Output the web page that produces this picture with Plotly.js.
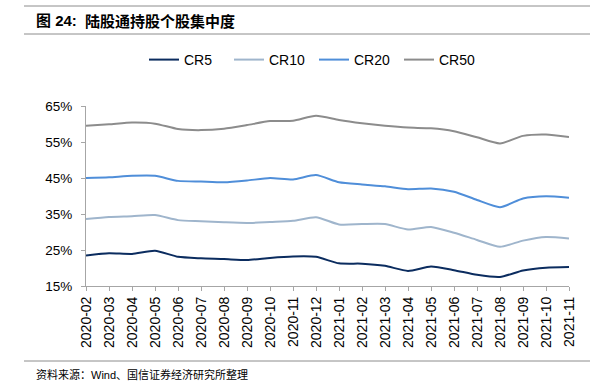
<!DOCTYPE html>
<html>
<head>
<meta charset="utf-8">
<script src="https://cdn.plot.ly/plotly-3.0.1.min.js"></script>
<style>html,body{margin:0;padding:0;background:#fff;}#chart{width:596px;height:391px;}</style>
</head>
<body>
<div id="chart"></div>
<script>
const months = ["2020-02","2020-03","2020-04","2020-05","2020-06","2020-07","2020-08","2020-09","2020-10","2020-11","2020-12","2021-01","2021-02","2021-03","2021-04","2021-05","2021-06","2021-07","2021-08","2021-09","2021-10","2021-11"];
const cr5  = [23.5,24.1,23.9,24.8,23.1,22.7,22.5,22.2,22.8,23.2,23.1,21.3,21.2,20.6,19.2,20.4,19.4,18.1,17.5,19.3,20.1,20.3];
const cr10 = [33.6,34.2,34.4,34.7,33.3,33.0,32.7,32.5,32.8,33.1,34.1,32.1,32.2,32.2,30.7,31.4,29.8,27.8,25.9,27.6,28.6,28.2];
const cr20 = [45.0,45.2,45.6,45.6,44.2,44.0,43.8,44.3,45.0,44.6,45.8,43.8,43.2,42.7,41.9,42.1,41.2,38.9,36.9,39.3,39.9,39.5];
const cr50 = [59.5,59.9,60.4,60.1,58.6,58.3,58.7,59.7,60.8,60.9,62.3,61.1,60.2,59.5,59.0,58.8,58.0,56.3,54.6,56.7,57.1,56.4];
const seriesNames = ["CR5","CR10","CR20","CR50"];
const seriesColors = ["#0b2c5f","#9fb5cc","#4f8ed9","#8c8c8c"];
const yTicks = [15,25,35,45,55,65];
const yTickText = ["15%","25%","35%","45%","55%","65%"];
const titleNum = "图 24:";
const titleMain = "陆股通持股个股集中度";
const sourceText = "资料来源：Wind、国信证券经济研究所整理";

const data = [cr5, cr10, cr20, cr50].map((vals, i) => ({
  x: months, y: vals, name: seriesNames[i], type: "scatter", mode: "lines",
  line: {color: seriesColors[i], width: 2, shape: "spline", smoothing: 0.6},
  cliponaxis: false, hoverinfo: "skip"
}));

const L = 86, R = 569, T = 106, B = 286;
const W = R - L, H = B - T;
const px = x => (x - L) / W;
const py = y => (B - y) / H;
const fontLatin = "'Liberation Sans', Arial, sans-serif";
const fontCJK = "'Liberation Sans', 'Noto Sans CJK SC', sans-serif";

const layout = {
  width: 596, height: 391,
  margin: {l: L, r: 596 - R, t: T, b: 391 - B, pad: 0},
  paper_bgcolor: "#fff", plot_bgcolor: "#fff",
  showlegend: true,
  legend: {orientation: "h", x: px(144), y: py(60), xanchor: "left", yanchor: "middle",
    font: {family: fontLatin, size: 14, color: "#000"}, entrywidth: 40, entrywidthmode: "pixels", tracegroupgap: 0},
  xaxis: {type: "category", range: [0, months.length - 1], autorange: false,
    showgrid: false, zeroline: false, showline: true, linecolor: "#a6a6a6", linewidth: 1,
    ticks: "outside", ticklen: 4, tickcolor: "#a6a6a6", tickangle: -90,
    tickfont: {family: fontLatin, size: 14, color: "#000"}, fixedrange: true},
  yaxis: {range: [15, 65], autorange: false, tickvals: yTicks, ticktext: yTickText,
    showgrid: false, zeroline: false, showline: true, linecolor: "#a6a6a6", linewidth: 1,
    ticks: "outside", ticklen: 4, tickcolor: "#a6a6a6", ticklabelstandoff: 6,
    tickfont: {family: fontLatin, size: 13.5, color: "#000"}, fixedrange: true},
  shapes: [
    {type: "line", xref: "paper", yref: "paper", x0: px(24), x1: px(590), y0: py(6), y1: py(6), line: {color: "#8c8c8c", width: 1}},
    {type: "line", xref: "paper", yref: "paper", x0: px(24), x1: px(590), y0: py(34), y1: py(34), line: {color: "#8c8c8c", width: 1}},
    {type: "line", xref: "paper", yref: "paper", x0: px(24), x1: px(590), y0: py(361), y1: py(361), line: {color: "#8c8c8c", width: 1}}
  ],
  annotations: [
    {text: "<b>" + titleNum + "</b>", xref: "paper", yref: "paper", x: px(34), y: py(21), xanchor: "left", yanchor: "middle", showarrow: false,
     font: {family: fontCJK, size: 15, color: "#000"}},
    {text: "<b>" + titleMain + "</b>", xref: "paper", yref: "paper", x: px(83), y: py(21), xanchor: "left", yanchor: "middle", showarrow: false,
     font: {family: "'Noto Sans CJK SC', sans-serif", size: 15, color: "#000"}},
    {text: sourceText, xref: "paper", yref: "paper", x: px(34), y: py(374), xanchor: "left", yanchor: "middle", showarrow: false,
     font: {family: fontCJK, size: 11, color: "#000"}}
  ]
};

Plotly.newPlot("chart", data, layout, {staticPlot: true, displayModeBar: false});
</script>
</body>
</html>
